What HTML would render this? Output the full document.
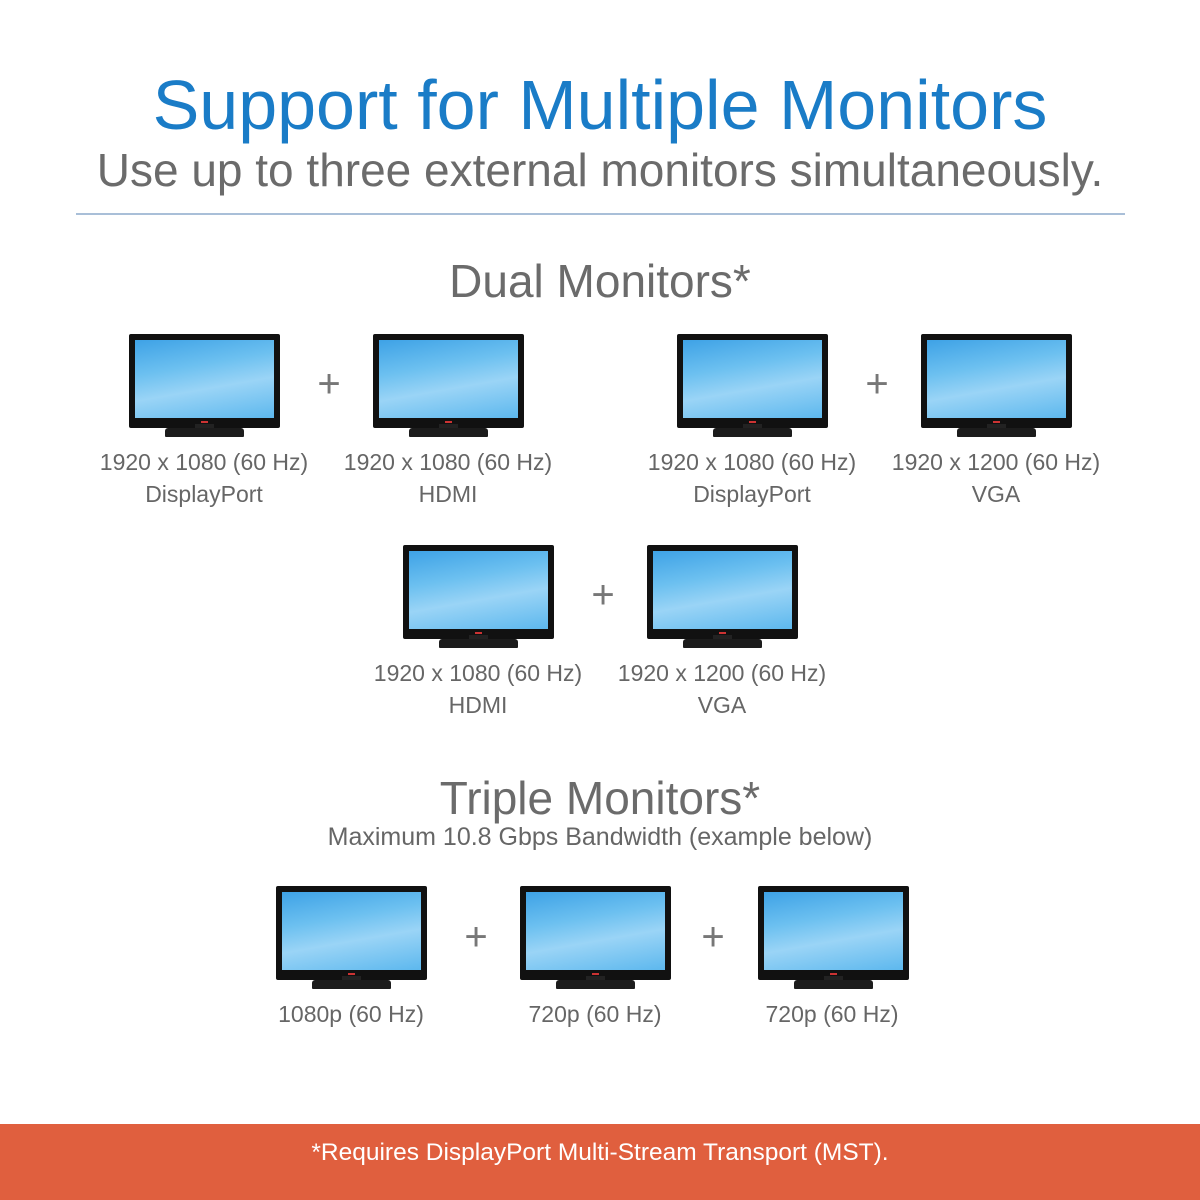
<!DOCTYPE html>
<html><head><style>
body{margin:0;width:1200px;height:1200px;background:#fff;position:relative;overflow:hidden;font-family:"Liberation Sans",sans-serif}
.t{position:absolute;left:0;width:1200px;text-align:center;white-space:nowrap}
.m{position:absolute;width:151px;height:104px}
.m .b{position:absolute;left:0;top:0;width:151px;height:94px;background:#111;border-radius:2px}
.m .s{position:absolute;left:6px;top:6px;width:139px;height:78px;background:linear-gradient(170deg,#3ea2e6 0%,#6cc0f0 35%,#9ad4f6 60%,#5db8ee 100%)}
.m .st{position:absolute;left:36px;top:94px;width:79px;height:9px;background:#1c1c1c;border-radius:3px 3px 1px 1px}
.m .nk{position:absolute;left:66px;top:90px;width:19px;height:6px;background:#222}
.m .r{position:absolute;left:72px;top:87px;width:7px;height:2px;background:#c33}
.l{position:absolute;width:260px;text-align:center;font-size:23px;color:#666;line-height:32px}
.p{position:absolute;width:40px;text-align:center;font-size:40px;color:#777;line-height:40px;font-weight:300}
</style></head><body>
<div class="t" style="top:63px;font-size:70px;color:#1a7cc7;line-height:84px">Support for Multiple Monitors</div>
<div class="t" style="top:142px;font-size:46px;color:#6b6b6b;line-height:56px">Use up to three external monitors simultaneously.</div>
<div style="position:absolute;left:76px;top:213px;width:1049px;height:2px;background:#a9bfd8"></div>
<div class="t" style="top:253px;font-size:46px;color:#6b6b6b;line-height:56px">Dual Monitors*</div>

<div class="m" style="left:129px;top:334px"><div class="b"></div><div class="s"></div><div class="nk"></div><div class="st"></div><div class="r"></div></div>
<div class="m" style="left:373px;top:334px"><div class="b"></div><div class="s"></div><div class="nk"></div><div class="st"></div><div class="r"></div></div>
<div class="m" style="left:677px;top:334px"><div class="b"></div><div class="s"></div><div class="nk"></div><div class="st"></div><div class="r"></div></div>
<div class="m" style="left:921px;top:334px"><div class="b"></div><div class="s"></div><div class="nk"></div><div class="st"></div><div class="r"></div></div>
<div class="p" style="left:309px;top:364px">+</div>
<div class="p" style="left:857px;top:364px">+</div>
<div class="l" style="left:74px;top:446px">1920 x 1080 (60 Hz)<br>DisplayPort</div>
<div class="l" style="left:318px;top:446px">1920 x 1080 (60 Hz)<br>HDMI</div>
<div class="l" style="left:622px;top:446px">1920 x 1080 (60 Hz)<br>DisplayPort</div>
<div class="l" style="left:866px;top:446px">1920 x 1200 (60 Hz)<br>VGA</div>

<div class="m" style="left:403px;top:545px"><div class="b"></div><div class="s"></div><div class="nk"></div><div class="st"></div><div class="r"></div></div>
<div class="m" style="left:647px;top:545px"><div class="b"></div><div class="s"></div><div class="nk"></div><div class="st"></div><div class="r"></div></div>
<div class="p" style="left:583px;top:575px">+</div>
<div class="l" style="left:348px;top:657px">1920 x 1080 (60 Hz)<br>HDMI</div>
<div class="l" style="left:592px;top:657px">1920 x 1200 (60 Hz)<br>VGA</div>

<div class="t" style="top:770px;font-size:46px;color:#6b6b6b;line-height:56px">Triple Monitors*</div>
<div class="t" style="top:822px;font-size:25px;color:#666;line-height:30px">Maximum 10.8 Gbps Bandwidth (example below)</div>

<div class="m" style="left:276px;top:886px"><div class="b"></div><div class="s"></div><div class="nk"></div><div class="st"></div><div class="r"></div></div>
<div class="m" style="left:520px;top:886px"><div class="b"></div><div class="s"></div><div class="nk"></div><div class="st"></div><div class="r"></div></div>
<div class="m" style="left:758px;top:886px"><div class="b"></div><div class="s"></div><div class="nk"></div><div class="st"></div><div class="r"></div></div>
<div class="p" style="left:456px;top:917px">+</div>
<div class="p" style="left:693px;top:917px">+</div>
<div class="l" style="left:221px;top:998px">1080p (60 Hz)</div>
<div class="l" style="left:465px;top:998px">720p (60 Hz)</div>
<div class="l" style="left:702px;top:998px">720p (60 Hz)</div>

<div style="position:absolute;left:0;top:1124px;width:1200px;height:76px;background:#e05f3e"></div>
<div class="t" style="top:1138px;font-size:24.5px;color:#fff;line-height:30px">*Requires DisplayPort Multi-Stream Transport (MST).</div>
</body></html>
